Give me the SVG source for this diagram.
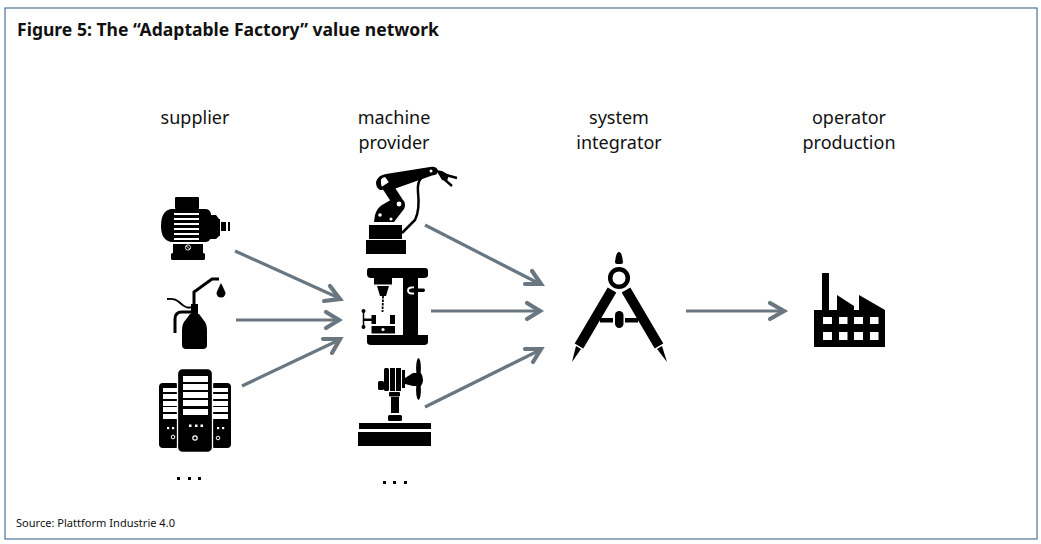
<svg xmlns="http://www.w3.org/2000/svg" width="1041" height="544" viewBox="0 0 1041 544">
<style>
text{font-family:"Noto Sans","Open Sans",sans-serif;fill:#111}
.t{font-size:18px;text-anchor:middle}
.k{fill:#000}.w{fill:#fff}
.ln{fill:none;stroke:#000}
.wl{fill:none;stroke:#fff}
.c{fill:none;stroke:#6b7780;stroke-width:3.2}
.h{fill:none;stroke:#6b7780;stroke-width:4.2;stroke-linecap:round}
</style>
<rect width="1041" height="544" fill="#fff"/>
<rect x="5" y="8" width="1032" height="531" fill="#fff" stroke="#4f7496" stroke-width="1.2"/>
<text id="title" x="17" y="36" font-size="17.6" font-weight="700" textLength="422" lengthAdjust="spacingAndGlyphs">Figure 5: The “Adaptable Factory” value network</text>
<text id="source" x="16" y="527" font-size="11" textLength="159" lengthAdjust="spacingAndGlyphs">Source: Plattform Industrie 4.0</text>

<g id="connectors">
<path class="c" d="M235 251L339 298"/><path class="h" d="M330 286L340 299L324 301"/>
<path class="c" d="M236 320H339"/><path class="h" d="M326 312L339 320L326 328"/>
<path class="c" d="M242 386L339 340"/><path class="h" d="M323 339L340 339L332 353"/>
<path class="c" d="M425 225L540 284"/><path class="h" d="M532 271L541 284L525 284"/>
<path class="c" d="M431 311H540"/><path class="h" d="M527 303L540 311L527 319"/>
<path class="c" d="M425 407L540 350"/><path class="h" d="M525 349L541 349L533 362"/>
<path class="c" d="M686 311H784"/><path class="h" d="M770 303L784 311L770 319"/>
</g>

<g id="supplier">
<text class="t" x="195" y="124">supplier</text>
<g id="motor">
<rect class="k" x="175" y="197" width="24" height="12" rx="1"/>
<path class="k" d="M171 209H205Q210 209 211 214V237Q210 242 205 242H171Q161 240 161 226Q161 211 171 209Z"/>
<path class="k" d="M210 215H216L219 219H220V236H219L216 239H210Z"/>
<rect class="k" x="221" y="222" width="5" height="9"/>
<rect class="k" x="228" y="222" width="2" height="9"/>
<g class="w"><rect x="174" y="213" width="25" height="2"/><rect x="174" y="218" width="25" height="2"/><rect x="174" y="223" width="25" height="2"/><rect x="174" y="228" width="25" height="2"/><rect x="174" y="233" width="25" height="2"/><rect x="174" y="238" width="25" height="2"/></g>
<rect class="k" x="173" y="244" width="30" height="9"/>
<rect class="k" x="171" y="253" width="34" height="7" rx="1.5"/>
<circle cx="188" cy="247.500" r="2.600" class="wl" stroke-width=".9"/>
<path d="M186 246L190 249" class="wl" stroke-width=".8"/>
</g>
<g id="oilcan">
<path class="k" d="M190 314H199L205 322Q207 325 207 331V345Q207 349 203 349H186Q182 349 182 345V331Q182 325 184 322Z"/>
<rect class="k" x="191" y="304" width="7" height="10"/>
<path class="ln" stroke-width="3" d="M194 305V292L212 279H219"/>
<path class="ln" stroke-width="1.800" d="M167 299Q175 298 179 302T187 307.500H192"/>
<path class="ln" stroke-width="3" d="M175 333V319Q175 312 182 312H192"/>
<path class="k" d="M221 283Q225 291 225.500 293A4.500 4.500 0 0 1 216.500 293Q217 291 221 283Z"/>
</g>
<g id="servers">
<rect class="k" x="159" y="383" width="20" height="65" rx="4"/>
<rect class="k" x="211" y="383" width="20" height="65" rx="4"/>
<g class="w">
<rect x="163" y="388" width="14" height="4"/><rect x="163" y="394" width="14" height="5"/><rect x="163" y="401" width="14" height="5"/><rect x="163" y="407" width="14" height="5"/><rect x="163" y="414" width="14" height="5"/>
<rect x="213" y="388" width="15" height="4"/><rect x="213" y="394" width="15" height="5"/><rect x="213" y="401" width="15" height="5"/><rect x="213" y="407" width="15" height="5"/><rect x="213" y="414" width="15" height="5"/>
<rect x="167" y="427" width="2.200" height="2.200"/><rect x="172" y="427" width="2.200" height="2.200"/><rect x="217" y="427" width="2.200" height="2.200"/><rect x="222" y="427" width="2.200" height="2.200"/>
</g>
<circle cx="173" cy="437" r="1.800" class="wl"/><circle cx="218" cy="438" r="1.800" class="wl"/>
<rect x="177.500" y="368.500" width="35" height="84" rx="5" class="k" stroke="#fff" stroke-width="1.300"/>
<g class="w">
<rect x="183" y="376" width="25" height="6"/><rect x="183" y="384" width="25" height="6"/><rect x="183" y="392" width="25" height="6"/><rect x="183" y="400" width="25" height="6"/><rect x="183" y="409" width="25" height="6"/>
<rect x="189" y="424.500" width="2.500" height="2.500"/><rect x="195" y="424.500" width="2.500" height="2.500"/><rect x="200.500" y="424.500" width="2.500" height="2.500"/>
</g>
<circle cx="195" cy="438" r="2.200" class="wl" stroke-width="1.200"/>
<g class="k"><rect x="177" y="477" width="3" height="3"/><rect x="188" y="477" width="3" height="3"/><rect x="198" y="477" width="3" height="3"/></g>
</g>
</g>

<g id="machine">
<text class="t" x="394" y="124">machine</text>
<text class="t" x="394" y="149">provider</text>
<g id="robot">
<rect class="k" x="366" y="240" width="40" height="14"/>
<rect class="k" x="369" y="225" width="33" height="14"/>
<path class="k" d="M374 222L375 215Q377 208 382 205L396 197L404 201Q406 205 404 209L394 222Z"/>
<path class="ln" stroke-width="11" d="M386 184L399 204"/>
<path class="k" d="M376 182Q378 175 386 174L430 167Q437 166 438 171Q438 175 432 175.500L394 189L385 177Q380 178 381 184L383 190L380 190Q376 188 376 182Z"/>
<path class="ln" stroke-width="2.500" d="M422 177Q417 182 418 192Q420 210 415 220L402 233"/>
<circle class="w" cx="384" cy="181" r="3"/><circle class="w" cx="399" cy="204" r="2.400"/><circle class="w" cx="380" cy="215" r="1.800"/><circle class="w" cx="391" cy="219" r="1.500"/><circle class="w" cx="431" cy="171" r="1.500"/>
<path class="k" d="M436 170L442 171L449 175L447 181L442 180Z"/>
<path class="ln" stroke-width="2.400" d="M446 175L457 178M444 179L452 186"/>
</g>
<g id="drill">
<path class="k" d="M369 268H425Q428 268 428 271V275Q428 278 424 278H371Q367 278 367 274V271Q367 268 369 268Z"/>
<rect class="k" x="374" y="278" width="18" height="6.500"/>
<path class="k" d="M377 286H389L386 296H380Z"/>
<path class="ln" stroke-width="1.800" stroke-dasharray="2.500 1" d="M383 296L382.500 312"/>
<rect class="k" x="403" y="278" width="15" height="58"/>
<path class="wl" stroke-width="1.800" d="M414 287.500H411Q408 288 408 290.500Q408 293 411 293.500H414"/>
<path class="k" d="M412 288.500H424Q426 290 424 292H412Z"/>
<path class="ln" stroke-width="1.500" d="M363.500 311V328"/><circle class="k" cx="363.500" cy="311" r="2"/><circle class="k" cx="363.500" cy="327" r="2"/>
<rect class="k" x="364" y="318.500" width="8" height="2.500"/>
<rect class="k" x="371.500" y="315" width="4.500" height="9"/><rect class="k" x="390" y="315" width="5" height="9"/>
<rect class="k" x="371.500" y="326" width="23.500" height="7.500"/><circle class="w" cx="383" cy="329.500" r="1.600"/>
<path class="k" d="M367 335H428V342Q428 345 424 345H371Q367 345 367 342Z"/>
</g>
<g id="lathe">
<rect class="k" x="359" y="423" width="72" height="6"/>
<rect class="k" x="358" y="432" width="73" height="14"/>
<rect class="k" x="391" y="397" width="8" height="16"/>
<rect class="k" x="388" y="415" width="14" height="6" rx="1.500"/>
<rect class="k" x="389" y="392" width="11" height="4.500" rx="1"/>
<rect class="k" x="384" y="368" width="5" height="23" rx="1.500"/><rect class="k" x="390" y="368" width="5" height="23"/><rect class="k" x="396" y="368" width="5" height="23"/>
<rect class="k" x="378" y="381" width="6" height="9" rx="1.500"/>
<rect class="k" x="402" y="370" width="3" height="18"/>
<path class="k" d="M405 378L413 373H421Q425 380 421 386H413L405 384Z"/>
<ellipse class="k" cx="418.500" cy="368" rx="2.400" ry="10"/><ellipse class="k" cx="418.500" cy="390" rx="2.400" ry="10"/>
<g class="k"><rect x="383" y="481" width="3" height="3"/><rect x="393" y="481" width="3" height="3"/><rect x="404" y="481" width="3" height="3"/></g>
</g>
</g>

<g id="integrator">
<text class="t" x="619" y="124">system</text>
<text class="t" x="619" y="149">integrator</text>
<g id="compass">
<path class="k" d="M615 262Q616 252 619 252Q622 252 623 262Q623 264 621 264H617Q615 264 615 262Z"/>
<path class="ln" stroke-width="10" d="M612 290L579 346M626 290L659 346"/>
<circle cx="619" cy="278" r="8.800" fill="#fff" stroke="#000" stroke-width="4.500"/>
<path class="k" d="M576 346L581 349L572 362ZM662 346L657 349L667 362Z"/>
<rect class="k" x="600" y="318" width="38" height="4.500"/>
<path class="w" d="M613 317h2v7h-2zM623 317h2v7h-2z"/>
<rect class="k" x="615" y="311" width="8.500" height="17" rx="4.200"/>
</g>
</g>

<g id="operator">
<text class="t" x="849" y="124">operator</text>
<text class="t" x="849" y="149">production</text>
<g id="factory">
<path class="k" d="M814 347V310H822V273H829V310H837V295L854 306V310H859V295L885 310V347Z"/>
<g class="w">
<rect x="823" y="317" width="9" height="7"/><rect x="839" y="317" width="8.500" height="7"/><rect x="854" y="317" width="9" height="7"/><rect x="870" y="317" width="8.500" height="7"/>
<rect x="823" y="332" width="9" height="8"/><rect x="839" y="332" width="8.500" height="8"/><rect x="854" y="332" width="9" height="8"/><rect x="870" y="332" width="8.500" height="8"/>
</g>
</g>
</g>
</svg>
